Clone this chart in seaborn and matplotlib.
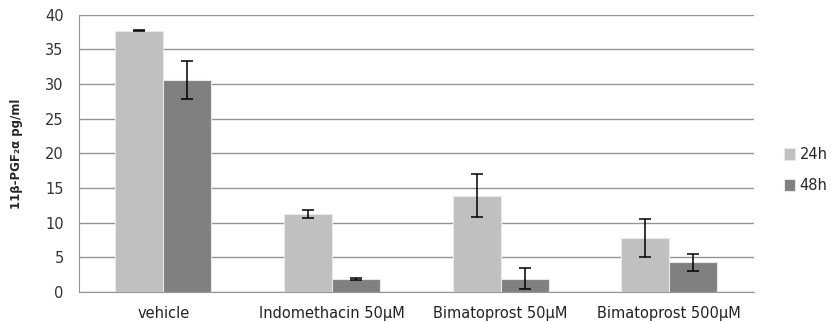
import matplotlib
matplotlib.use("Agg")
import matplotlib.pyplot as plt
import seaborn as sns
import pandas as pd
import numpy as np
from matplotlib.ticker import FixedLocator

categories = ["vehicle", "Indomethacin 50μM", "Bimatoprost 50μM", "Bimatoprost 500μM"]
series = ["24h", "48h"]
values_24h = [37.7, 11.3, 13.9, 7.8]
values_48h = [30.6, 1.9, 1.9, 4.3]
err_24h = [0.05, 0.55, 3.1, 2.75]
err_48h = [2.8, 0.1, 1.5, 1.25]
colors = {"24h": "#C0C0C0", "48h": "#808080"}

df = pd.DataFrame({
    "cat": categories * 2,
    "time": ["24h"] * 4 + ["48h"] * 4,
    "val": values_24h + values_48h,
    "err": err_24h + err_48h,
})

sns.set_style("white")
plt.rcParams['font.family'] = ['DejaVu Sans']
fig = plt.figure(figsize=(8.31, 3.23), dpi=100)
ax = fig.add_axes([0.095, 0.096, 0.812, 0.858])

sns.barplot(data=df, x="cat", y="val", hue="time", order=categories, hue_order=series,
            palette=colors, width=0.57, errorbar=None, ax=ax, edgecolor="#E8E8E8",
            linewidth=0.8, zorder=3)

# error bars at bar centers
for cont, s in zip(ax.containers, series):
    sub = df[df.time == s].set_index("cat").loc[categories]
    xs = [p.get_x() + p.get_width() / 2 for p in cont.patches]
    ax.errorbar(xs, sub["val"].values, yerr=sub["err"].values, fmt="none",
                ecolor="black", elinewidth=1.1, capsize=4, capthick=1.1, zorder=4)

ax.set_ylim(0, 40)
ax.set_xlim(-0.5, 3.5)
ax.set_yticks(np.arange(0, 41, 5))
ax.yaxis.grid(True, color="#959595", linewidth=1.0, zorder=0)
ax.set_axisbelow(True)
for sp in ["top", "right"]:
    ax.spines[sp].set_visible(False)
ax.spines["left"].set_color("#959595")
ax.spines["bottom"].set_color("#959595")
ax.tick_params(axis="y", length=6, color="#959595", labelsize=10.5, labelcolor="#333333", pad=5)
ax.tick_params(axis="x", which="major", length=0, labelsize=10.5, labelcolor="#222222", pad=10)
ax.xaxis.set_minor_locator(FixedLocator([-0.5, 0.5, 1.5, 2.5, 3.5]))
ax.tick_params(axis="x", which="minor", length=5, color="#959595")
ax.set_xlabel("")
ax.set_ylabel("11β-PGF₂α pg/ml", fontsize=8.5, fontweight="bold", labelpad=16)

handles, labels = ax.get_legend_handles_labels()
ax.legend(handles, labels, loc="center left", bbox_to_anchor=(1.025, 0.44), frameon=False,
          fontsize=10.5, handlelength=0.8, handleheight=0.8, handletextpad=0.3, labelspacing=1.1)

fig.savefig("out.png", dpi=100)
